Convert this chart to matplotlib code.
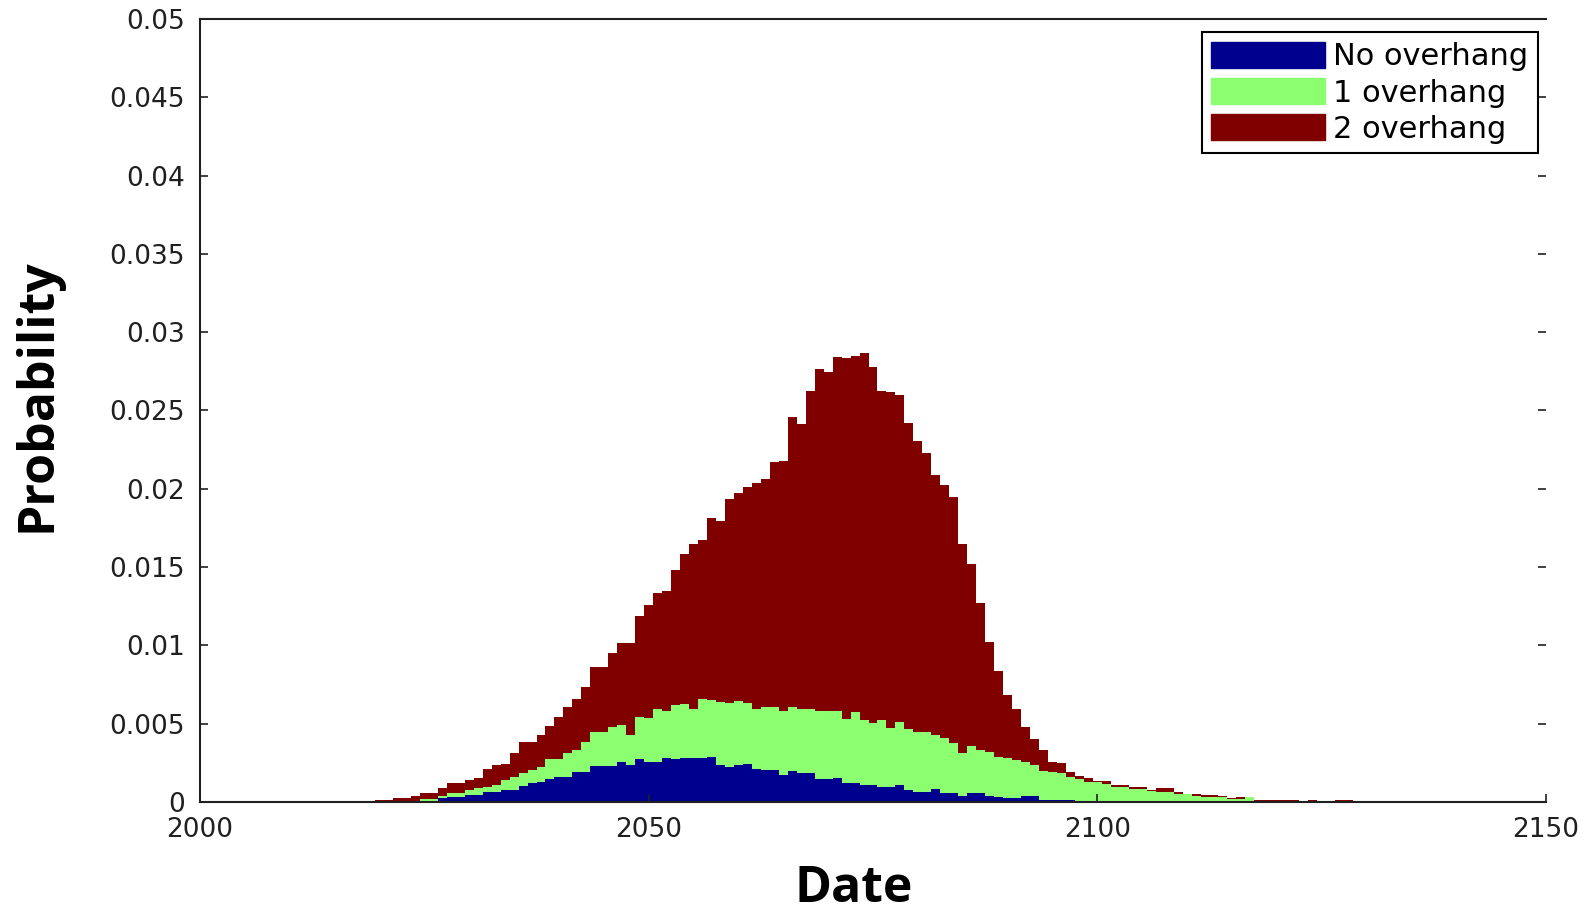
import numpy as np
import matplotlib
matplotlib.use("Agg")
from matplotlib import pyplot as plt
from matplotlib.patches import Patch
from matplotlib.ticker import FuncFormatter

# Histogram bins, one per year (bin centres)
years = list(range(2020, 2129))

# Stack heights, in units of 1e-3
# no overhang (bottom layer)
no_overhang = [
    0, 0, 0, 0, 0, 0, 0, 0.25, 0.30, 0.30,
    0.45, 0.45, 0.62, 0.62, 0.77, 0.77, 1.02, 1.19, 1.30, 1.45,
    1.58, 1.58, 1.94, 1.94, 2.32, 2.32, 2.32, 2.57, 2.36, 2.72,
    2.57, 2.57, 2.83, 2.72, 2.79, 2.79, 2.79, 2.85, 2.36, 2.26,
    2.36, 2.40, 2.09, 2.04, 2.04, 1.72, 1.95, 1.83, 1.83, 1.45,
    1.45, 1.55, 1.24, 1.24, 1.09, 1.09, 0.98, 0.98, 1.10, 0.77,
    0.66, 0.66, 0.81, 0.60, 0.60, 0.38, 0.55, 0.60, 0.38, 0.30,
    0.28, 0.25, 0.38, 0.38, 0.15, 0.15, 0.15, 0.12, 0, 0,
    0, 0, 0, 0, 0, 0, 0, 0, 0, 0,
    0, 0, 0, 0, 0, 0, 0, 0, 0, 0,
    0, 0, 0, 0, 0, 0, 0, 0, 0,
]
# top of the "1 overhang" layer (no + 1 overhang)
top_one = [
    0, 0, 0, 0, 0, 0.17, 0.17, 0.38, 0.55, 0.55,
    0.77, 0.91, 0.95, 1.09, 1.40, 1.62, 1.87, 2.04, 2.25, 2.72,
    2.72, 3.11, 3.32, 3.85, 4.49, 4.49, 4.81, 4.92, 4.28, 5.45,
    5.34, 5.92, 5.83, 6.19, 6.24, 5.92, 6.56, 6.50, 6.41, 6.30,
    6.45, 6.30, 5.92, 6.05, 6.05, 5.83, 6.05, 5.92, 5.92, 5.83,
    5.83, 5.83, 5.28, 5.77, 5.24, 5.02, 5.24, 4.70, 5.13, 4.64,
    4.49, 4.49, 4.28, 4.10, 3.75, 3.15, 3.58, 3.32, 3.20, 2.85,
    2.80, 2.68, 2.57, 2.36, 2.00, 1.94, 1.85, 1.62, 1.47, 1.30,
    1.30, 1.15, 0.98, 0.98, 0.81, 0.81, 0.72, 0.66, 0.66, 0.49,
    0.49, 0.40, 0.34, 0.30, 0.30, 0.17, 0.17, 0.30, 0, 0,
    0, 0, 0, 0, 0, 0, 0, 0, 0,
]
# total height (top of the "2 overhang" layer)
top_two = [
    0.13, 0.13, 0.27, 0.27, 0.40, 0.55, 0.55, 0.91, 1.19, 1.19,
    1.40, 1.55, 2.09, 2.35, 2.45, 3.11, 3.85, 3.85, 4.28, 4.85,
    5.45, 6.05, 6.56, 7.32, 8.64, 8.64, 9.53, 10.17, 10.17, 11.88,
    12.58, 13.37, 13.49, 14.81, 15.82, 16.46, 16.73, 18.16, 17.94, 19.33,
    19.71, 20.10, 20.35, 20.63, 21.73, 21.78, 24.60, 24.12, 26.25, 27.65,
    27.48, 28.44, 28.33, 28.48, 28.69, 27.80, 26.25, 26.16, 25.99, 24.22,
    23.07, 22.31, 20.88, 20.24, 19.46, 16.48, 15.18, 12.73, 10.20, 8.39,
    6.83, 5.94, 4.77, 4.00, 3.32, 2.57, 2.50, 1.94, 1.66, 1.51,
    1.34, 1.34, 1.09, 1.09, 0.94, 0.94, 0.77, 0.87, 0.87, 0.66,
    0.53, 0.52, 0.45, 0.45, 0.36, 0.23, 0.30, 0.34, 0.10, 0.10,
    0.10, 0.10, 0.10, 0.00, 0.10, 0.00, 0.00, 0.10, 0.10,
]

labels = ['No overhang', '1 overhang', '2 overhang']
colors = ['#00008F', '#8CFF70', '#800000']
xticks = [2000, 2050, 2100, 2150]
yticks = [0, 0.005, 0.01, 0.015, 0.02, 0.025, 0.03, 0.035, 0.04, 0.045, 0.05]

# per-layer heights for the stacked bars
s0 = np.array(no_overhang) * 1e-3
s1 = np.array(top_one) * 1e-3 - s0
s2 = np.array(top_two) * 1e-3 - np.array(top_one) * 1e-3

fig = plt.figure(figsize=(15.9, 9.11), dpi=100)
ax = fig.add_axes([0.1258, 0.1197, 0.8465, 0.8594])

# no antialiasing so neighbouring bars join without seams
ax.bar(years, s0, width=1.0, color=colors[0], linewidth=0, antialiased=False)
ax.bar(years, s1, width=1.0, bottom=s0, color=colors[1], linewidth=0, antialiased=False)
ax.bar(years, s2, width=1.0, bottom=s0 + s1, color=colors[2], linewidth=0, antialiased=False)

ax.set_xlim(2000, 2150)
ax.set_ylim(0, 0.05)
ax.set_xticks(xticks)
ax.set_yticks(yticks)
ax.yaxis.set_major_formatter(FuncFormatter(lambda v, p: '{:g}'.format(v)))

ax.spines['right'].set_visible(False)
for side in ['left', 'bottom', 'top']:
    ax.spines[side].set_linewidth(1.5)
    ax.spines[side].set_color('#202020')
ax.tick_params(axis='both', direction='in', length=6, width=1.2, pad=11,
               labelsize=19, colors='#202020', right=True)

ax.set_xlabel('Date', family='Open Sans', fontweight='bold', fontsize=36, va='baseline')
ax.xaxis.set_label_coords(0.486, -0.1277)
ax.set_ylabel('Probability', family='Open Sans', fontweight='bold', fontsize=36)
ax.yaxis.set_label_coords(-0.102, 0.519)

handles = [Patch(facecolor=c, edgecolor=c) for c in colors]
leg = ax.legend(handles, labels, loc='upper right', bbox_to_anchor=(0.9673, 0.9649),
                bbox_transform=fig.transFigure, prop={'family': 'DejaVu Sans', 'size': 22},
                fancybox=False, edgecolor='black', framealpha=1,
                handlelength=3.73, handleheight=0.95, handletextpad=0.25,
                labelspacing=0.21, borderpad=0.32, borderaxespad=0)
leg.get_frame().set_linewidth(1.5)

fig.savefig('out.png', dpi=100)
